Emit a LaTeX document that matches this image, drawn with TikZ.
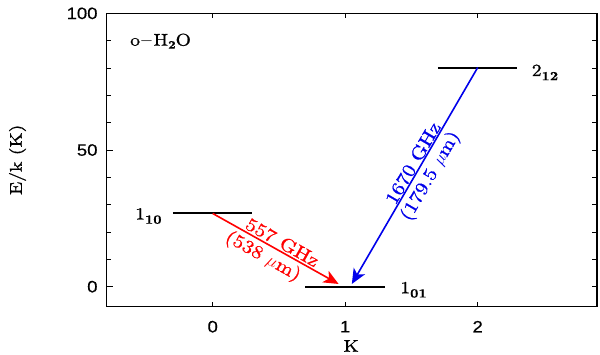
\documentclass[tikz,border=0pt]{standalone}
\usepackage{fontspec}
\usepackage{graphicx}
\newfontfamily\plotfont{lmroman10-regular.otf}[FakeStretch=1.15, FakeBold=0.9, BoldFont=lmroman10-bold.otf, BoldFeatures={FakeBold=0.6}]
\newfontfamily\ticksfont{Liberation Sans}[FakeStretch=1.12, FakeBold=0.4]
\usetikzlibrary{arrows.meta}
\definecolor{lvlred}{RGB}{255,0,0}
\definecolor{lvlblue}{RGB}{0,0,235}
\newcommand{\lvsub}[1]{\raisebox{-4.2pt}{\fontsize{12.5}{13}\selectfont\bfseries #1}}
\tikzset{
  framebox/.style={line width=1.1pt},
  tickline/.style={line width=0.9pt},
  level/.style={line width=2pt, black},
  ticklab/.style={font=\ticksfont\fontsize{16.5}{18}\selectfont, inner sep=0pt},
  plotlab/.style={font=\plotfont\fontsize{17}{19}\selectfont, inner sep=0pt},
  arrowlab/.style={font=\plotfont\fontsize{18.5}{20}\selectfont, inner sep=0pt, sloped},
  trans/.style={line width=1.6pt, -{Stealth[length=15pt,width=13pt,inset=4pt]}},
}
\begin{document}
\begin{tikzpicture}[x=1pt,y=1pt]
\useasboundingbox (0,0) rectangle (600,354);
\fill[white] (0,0) rectangle (600,354);
\begin{scope}[shift={(212.7pt,67.3pt)}, x=132.5pt, y=2.733pt]
  % frame
  \draw[framebox] (-0.8,-7.3) rectangle (2.9,100);
  % y ticks
  \foreach \e in {10,20,30,40,60,70,80,90} {
    \draw[tickline] (-0.8,\e) -- ++(4.5pt,0);
  }
  \foreach \e in {0,50,100} {
    \draw[tickline] (-0.8,\e) -- ++(6pt,0);
    \node[ticklab, anchor=east] at ([xshift=-9pt]-0.8,\e) {\e};
  }
  \foreach \e in {0,10,...,90} {
    \draw[tickline] (2.9,\e) -- ++(-4.5pt,0);
  }
  % x ticks
  \foreach \k in {0,1,2} {
    \draw[tickline] (\k,-7.3) -- ++(0,5pt);
    \draw[tickline] (\k,100) -- ++(0,-5pt);
    \node[ticklab] at (\k,-14.64) {\k};
  }
  % axis labels
  \node[plotlab, anchor=base] (xlab) at (1.045,-23.8) {K};
  \node[plotlab, anchor=base, rotate=90] (ylab) at (-1.441,46.4) {E/k (K)};
  \node[plotlab, anchor=base west] (title) at (-0.624,88.2) {o$-$H\raisebox{-3pt}{\fontsize{11.5}{12}\selectfont\bfseries 2}O};
  % levels
  \coordinate (a1) at (-0.3,26.8); \coordinate (a2) at (0.3,26.8);
  \coordinate (b1) at (0.7,0);     \coordinate (b2) at (1.3,0);
  \coordinate (c1) at (1.7,80.2);  \coordinate (c2) at (2.3,80.2);
  \draw[level] (a1) -- (a2);
  \draw[level] (b1) -- (b2);
  \draw[level] (c1) -- (c2);
  \node[plotlab, anchor=base west] (l110) at (-0.586,24.6) {1\lvsub{10}};
  \node[plotlab, anchor=base west] (l101) at (1.415,-2.4) {1\lvsub{01}};
  \node[plotlab, anchor=base west] (l212) at (2.407,77.1) {2\lvsub{12}};
  % transitions
  \coordinate (rs) at (0,26.8);  \coordinate (rt) at (0.95,1);
  \coordinate (bs) at (2.0,80.2); \coordinate (bt) at (1.05,1);
  \draw[trans, lvlred] (rs) -- (rt)
    node[arrowlab, pos=0.52, yshift=9pt, text=lvlred] {557 GHz}
    node[arrowlab, pos=0.45, yshift=-13.2pt, text=lvlred] {(538 $\mu$m)};
  \draw[line width=1.6pt, lvlblue, {Stealth[length=15pt,width=13pt,inset=4pt]}-] (bt) -- (bs)
    node[arrowlab, pos=0.54, yshift=8pt, text=lvlblue] {1670 GHz}
    node[arrowlab, pos=0.53, yshift=-14pt, text=lvlblue] {(179.5 $\mu$m)};
\end{scope}
\end{tikzpicture}
\end{document}
